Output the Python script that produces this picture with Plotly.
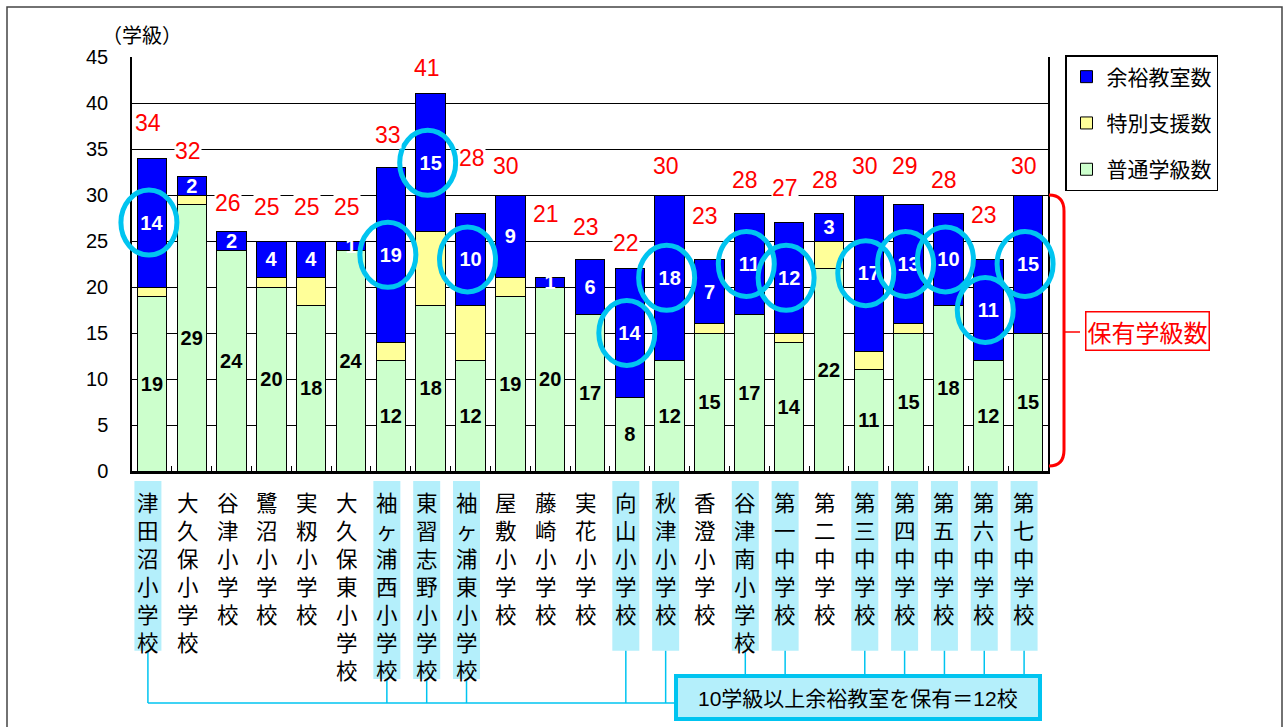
import plotly.graph_objects as go

# ---------------- data ----------------
schools = ["津田沼小学校", "大久保小学校", "谷津小学校", "鷺沼小学校", "実籾小学校",
           "大久保東小学校", "袖ヶ浦西小学校", "東習志野小学校", "袖ヶ浦東小学校",
           "屋敷小学校", "藤崎小学校", "実花小学校", "向山小学校", "秋津小学校",
           "香澄小学校", "谷津南小学校", "第一中学校", "第二中学校", "第三中学校",
           "第四中学校", "第五中学校", "第六中学校", "第七中学校"]
normal = [19, 29, 24, 20, 18, 24, 12, 18, 12, 19, 20, 17, 8, 12, 15, 17, 14, 22, 11, 15, 18, 12, 15]
special = [1, 1, 0, 1, 3, 0, 2, 8, 6, 2, 0, 0, 0, 0, 1, 0, 1, 3, 2, 1, 0, 0, 0]
surplus = [14, 2, 2, 4, 4, 1, 19, 15, 10, 9, 1, 6, 14, 18, 7, 11, 12, 3, 17, 13, 10, 11, 15]
totals = [34, 32, 26, 25, 25, 25, 33, 41, 28, 30, 21, 23, 22, 30, 23, 28, 27, 28, 30, 29, 28, 23, 30]
y_ticks = [0, 5, 10, 15, 20, 25, 30, 35, 40, 45]
legend_names = ["普通学級数", "特別支援数", "余裕教室数"]
y_title = "（学級）"
bracket_label = "保有学級数"
note_label = "10学級以上余裕教室を保有＝12校"

# ---------------- layout helpers (pixels -> paper) ----------------
W, H = 1285, 727
L, R, T, B = 132, 1048, 57, 471
n = len(schools)
cw = (R - L) / n


def px(x):
    return (x - L) / (R - L)


def py(y):
    return (B - y) / (B - T)


def cx(i):
    return L + (i + 0.5) * cw


# pixel offsets of each total label relative to its bar top (layout only)
label_lift = [35, 26, 29, 34, 34, 34, 32, 26, 55, 29, 64, 32, 26, 29, 43, 33, 35, 33, 29, 38, 33, 44, 29]
label_dx = [-4, -4, -4, -4, -4, -4, -3, -4, 1, -4, -4, -4, -4, -4, -4, -4, -4, -4, -4, -4, -4, -4, -4]

FONT = "Liberation Sans, Noto Sans CJK JP, sans-serif"
CJK = "Noto Sans CJK JP, sans-serif"
CYAN = "#00C4F0"
LIGHT = "#B4EFFB"

fig = go.Figure()
fig.add_trace(go.Bar(
    x=schools, y=normal, name=legend_names[0], legendgroup="a", legendrank=3,
    marker=dict(color="#CCFFCC", line=dict(color="black", width=1)),
    text=normal, textposition="inside", insidetextanchor="middle", textangle=0,
    textfont=dict(color="black", size=20, family=FONT, weight="bold"),
))
fig.add_trace(go.Bar(
    x=schools, y=special, name=legend_names[1], legendgroup="b", legendrank=2,
    marker=dict(color="#FFFF99", line=dict(color="black", width=1)),
))
fig.add_trace(go.Bar(
    x=schools, y=surplus, name=legend_names[2], legendgroup="c", legendrank=1,
    marker=dict(color="#0000FF", line=dict(color="black", width=1)),
    text=surplus, textposition="inside", insidetextanchor="middle", textangle=0,
    textfont=dict(color="white", size=20, family=FONT, weight="bold"),
))

shapes = []
annotations = []

# total labels in red
for i, s in enumerate(schools):
    annotations.append(dict(
        x=s, y=totals[i], xref="x", yref="y", text=str(totals[i]), showarrow=False,
        xanchor="center", yanchor="middle", yshift=label_lift[i], xshift=label_dx[i],
        font=dict(color="#FF0000", size=23, family=FONT), bgcolor="white", borderpad=0,
    ))

# circles around surplus >= 10
hi = [v >= 10 for v in surplus]
for i in range(n):
    if hi[i]:
        mid = normal[i] + special[i] + surplus[i] / 2
        shapes.append(dict(
            type="circle", xref="paper", yref="y", xsizemode="pixel", ysizemode="pixel",
            xanchor=px(cx(i) - 3), x0=-28, x1=28, yanchor=mid, y0=-32.5, y1=32.5,
            line=dict(color=CYAN, width=5), layer="above",
        ))

# vertical category labels
lab_top = 481
for i, s in enumerate(schools):
    nch = len(s)
    bot = lab_top + max(6, nch) * 28.3
    if hi[i]:
        shapes.append(dict(type="rect", xref="paper", yref="paper",
                           x0=px(cx(i) - 4 - 13.5), x1=px(cx(i) - 4 + 13.5),
                           y0=py(lab_top), y1=py(bot), fillcolor=LIGHT,
                           line=dict(width=0), layer="below"))
    annotations.append(dict(
        x=s, xref="x", y=py(lab_top + 4), yref="paper", xanchor="center", yanchor="top",
        xshift=-4, text="<br>".join(list(s)), showarrow=False, borderpad=0,
        font=dict(size=21.5, color="black", family=CJK),
    ))

# connectors and note box
box_l, box_r, box_t, box_b = 676, 1040, 676, 719
hline_y = 703
left_x = None
for i, s in enumerate(schools):
    if not hi[i]:
        continue
    nch = len(s)
    bot = lab_top + max(6, nch) * 28.3
    x = cx(i) - 4
    end = box_t if x >= box_l else hline_y
    if left_x is None:
        left_x = x
    shapes.append(dict(type="line", xref="paper", yref="paper", x0=px(x), x1=px(x),
                       y0=py(bot), y1=py(end), line=dict(color=CYAN, width=1.5)))
shapes.append(dict(type="line", xref="paper", yref="paper", x0=px(left_x), x1=px(box_l),
                   y0=py(hline_y), y1=py(hline_y), line=dict(color=CYAN, width=1.5)))
shapes.append(dict(type="rect", xref="paper", yref="paper", x0=px(box_l), x1=px(box_r),
                   y0=py(box_b), y1=py(box_t), fillcolor=LIGHT,
                   line=dict(color=CYAN, width=4), layer="below"))
annotations.append(dict(
    x=px((box_l + box_r) / 2), y=py((box_t + box_b) / 2 + 1), xref="paper", yref="paper",
    xanchor="center", yanchor="middle",
    text=note_label, showarrow=False, font=dict(size=21, color="black", family=FONT),
))

# red bracket + label
bx0, bx1 = 1049, 1064
by0, by1 = 195, 466
path = (f"M {px(bx0)},{py(by0)} Q {px(bx1)},{py(by0)} {px(bx1)},{py(by0 + 16)} "
        f"L {px(bx1)},{py(by1 - 16)} Q {px(bx1)},{py(by1)} {px(bx0)},{py(by1)}")
shapes.append(dict(type="path", xref="paper", yref="paper", path=path,
                   line=dict(color="#FF0000", width=3)))
shapes.append(dict(type="line", xref="paper", yref="paper", x0=px(bx1), x1=px(1080),
                   y0=py(332), y1=py(332), line=dict(color="#FF0000", width=1.5)))
annotations.append(dict(
    x=px(1147), y=py(331), xref="paper", yref="paper", xanchor="center", yanchor="middle",
    text=bracket_label, showarrow=False,
    font=dict(size=24, color="#FF0000", family=CJK), bgcolor="white",
    bordercolor="#FF0000", borderwidth=1.5, borderpad=1,
))

# y axis unit title
annotations.append(dict(
    x=px(142), y=py(35), xref="paper", yref="paper", xanchor="center", yanchor="middle",
    text=y_title, showarrow=False,
    font=dict(size=20, color="black", family=CJK),
))

# outer frame
shapes.append(dict(type="rect", xref="paper", yref="paper", x0=px(7), x1=px(1282),
                   y0=py(760), y1=py(7), line=dict(color="#444444", width=1.5), layer="below"))

fig.update_layout(
    width=W, height=H, autosize=False,
    margin=dict(l=L, r=W - R, t=T, b=H - B, pad=0),
    barmode="stack", bargap=0.26,
    paper_bgcolor="white", plot_bgcolor="white",
    font=dict(family=FONT, color="black"),
    uniformtext=dict(minsize=20, mode="show"),
    showlegend=True,
    legend=dict(
        x=px(1065), y=py(55), xanchor="left", yanchor="top", xref="paper", yref="paper",
        traceorder="grouped", tracegroupgap=16,
        bordercolor="black", borderwidth=1.5, bgcolor="white",
        font=dict(size=21, family=CJK, color="black"),
    ),
    xaxis=dict(
        type="category", showticklabels=False, showline=True, linecolor="black", linewidth=2.5,
        ticks="inside", tickson="boundaries", ticklen=5, tickcolor="black", tickwidth=1,
        showgrid=False, fixedrange=True,
    ),
    yaxis=dict(
        range=[0, 45], tickvals=y_ticks, showgrid=True, gridcolor="black", gridwidth=1,
        showline=True, linecolor="black", linewidth=1.5, mirror=True, ticks="",
        tickfont=dict(size=20, family=FONT, color="black"), ticklabelstandoff=18,
        zeroline=False, fixedrange=True,
    ),
    shapes=shapes, annotations=annotations,
)

fig.write_html("out.html")
